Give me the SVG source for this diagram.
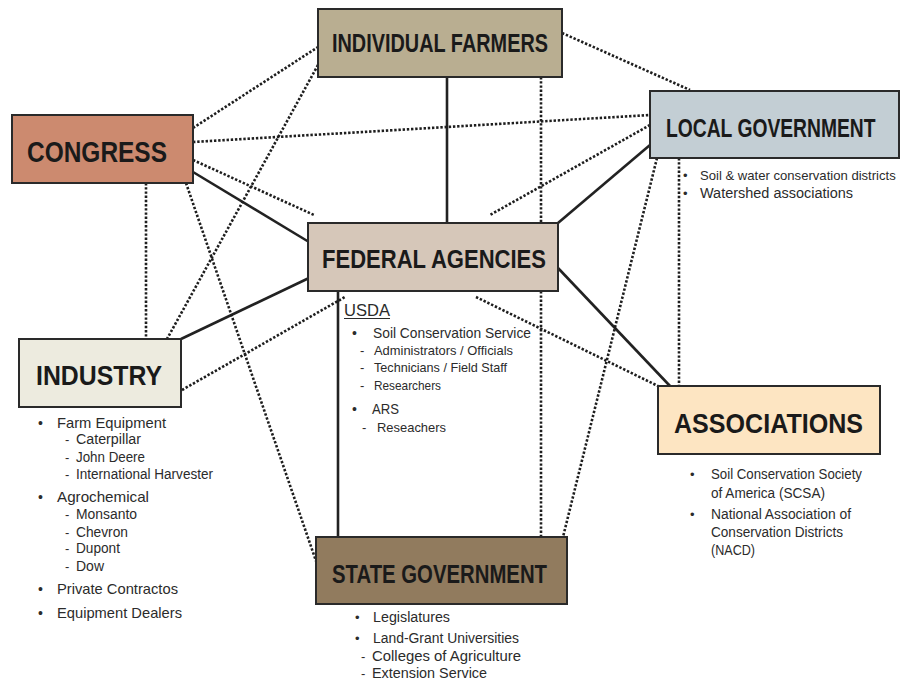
<svg xmlns="http://www.w3.org/2000/svg" width="903" height="686" viewBox="0 0 903 686">
<style>
.box{stroke:#2a2a2a;stroke-width:2}
.title{font-family:"Liberation Sans",Arial,sans-serif;font-weight:bold;fill:#1a1a1a}
.t{font-family:"Liberation Sans",Arial,sans-serif;fill:#2b2b2b}
.solid{stroke:#222;stroke-width:2.6;fill:none}
.dot{stroke:#1e1e1e;stroke-width:2.6;stroke-dasharray:2.4 1.8;fill:none}
</style>
<rect width="903" height="686" fill="#ffffff"/>
<g id="connectors">
  <line class="solid" x1="447" y1="77" x2="447" y2="223"/>
  <line class="solid" x1="193" y1="172" x2="309" y2="242"/>
  <line class="solid" x1="650" y1="145" x2="558" y2="223"/>
  <line class="solid" x1="309" y1="278" x2="181" y2="339"/>
  <line class="solid" x1="558" y1="268" x2="670" y2="386"/>
  <line class="solid" x1="338" y1="291" x2="338" y2="537"/>
  <line class="dot" x1="193" y1="128" x2="318" y2="47"/>
  <line class="dot" x1="193" y1="142" x2="650" y2="115"/>
  <line class="dot" x1="193" y1="160" x2="314" y2="215"/>
  <line class="dot" x1="318" y1="65" x2="167" y2="339"/>
  <line class="dot" x1="146" y1="183" x2="146" y2="339"/>
  <line class="dot" x1="186" y1="183" x2="316" y2="561"/>
  <line class="dot" x1="182" y1="390" x2="345" y2="297"/>
  <line class="dot" x1="562" y1="33" x2="690" y2="90"/>
  <line class="dot" x1="650" y1="125" x2="490" y2="215"/>
  <line class="dot" x1="541" y1="77" x2="541" y2="537"/>
  <line class="dot" x1="657" y1="158" x2="563" y2="537"/>
  <line class="dot" x1="679" y1="158" x2="679" y2="386"/>
  <line class="dot" x1="476" y1="297" x2="658" y2="386"/>
</g>
<g id="individual-farmers">
  <rect class="box" x="318" y="9" width="244" height="68" fill="#b9ae91"/>
  <text class="title" x="332" y="52" font-size="25" textLength="216" lengthAdjust="spacingAndGlyphs">INDIVIDUAL FARMERS</text>
</g>
<g id="congress">
  <rect class="box" x="12" y="115" width="181" height="68" fill="#cc8a6f"/>
  <text class="title" x="27" y="162" font-size="29" textLength="140" lengthAdjust="spacingAndGlyphs">CONGRESS</text>
</g>
<g id="local-government">
  <rect class="box" x="650" y="91" width="249" height="67" fill="#c3ced4"/>
  <text class="title" transform="translate(666 137) scale(0.742 1)" x="0" y="0" font-size="26">LOCAL GOVERNMENT</text>
  <text class="t" x="683" y="180" font-size="13">•</text>
  <text class="t" x="700" y="180" font-size="13.1">Soil &amp; water conservation districts</text>
  <text class="t" x="683" y="198" font-size="13">•</text>
  <text class="t" x="700" y="198" font-size="14" textLength="153" lengthAdjust="spacingAndGlyphs">Watershed associations</text>
</g>
<g id="federal-agencies">
  <rect class="box" x="308" y="223" width="250" height="68" fill="#d6c7b9"/>
  <text class="title" x="322" y="268" font-size="26" textLength="224" lengthAdjust="spacingAndGlyphs">FEDERAL AGENCIES</text>
  <text class="t" x="344" y="316" font-size="17" textLength="46" lengthAdjust="spacingAndGlyphs">USDA</text>
  <line x1="344" y1="318.5" x2="390" y2="318.5" stroke="#2b2b2b" stroke-width="1"/>
  <text class="t" x="352" y="338" font-size="14">•</text>
  <text class="t" x="373" y="338" font-size="15" textLength="158" lengthAdjust="spacingAndGlyphs">Soil Conservation Service</text>
  <text class="t" x="360" y="355" font-size="13">-</text>
  <text class="t" x="374" y="355" font-size="13" textLength="139" lengthAdjust="spacingAndGlyphs">Administrators / Officials</text>
  <text class="t" x="360" y="372" font-size="13">-</text>
  <text class="t" x="374" y="372" font-size="13" textLength="133" lengthAdjust="spacingAndGlyphs">Technicians / Field Staff</text>
  <text class="t" x="360" y="390" font-size="13">-</text>
  <text class="t" x="374" y="390" font-size="13" textLength="67" lengthAdjust="spacingAndGlyphs">Researchers</text>
  <text class="t" x="352" y="414" font-size="14">•</text>
  <text class="t" x="372" y="414" font-size="15" textLength="27" lengthAdjust="spacingAndGlyphs">ARS</text>
  <text class="t" x="362" y="432" font-size="13">-</text>
  <text class="t" x="377" y="432" font-size="13" textLength="69" lengthAdjust="spacingAndGlyphs">Reseachers</text>
</g>
<g id="industry">
  <rect class="box" x="19" y="339" width="162" height="68" fill="#edebdf"/>
  <text class="title" x="36" y="385" font-size="28" textLength="126" lengthAdjust="spacingAndGlyphs">INDUSTRY</text>
  <text class="t" x="38" y="428" font-size="14">•</text>
  <text class="t" x="57" y="428" font-size="15" textLength="109" lengthAdjust="spacingAndGlyphs">Farm Equipment</text>
  <text class="t" x="65" y="444" font-size="13">-</text>
  <text class="t" x="76" y="444" font-size="14" textLength="65" lengthAdjust="spacingAndGlyphs">Caterpillar</text>
  <text class="t" x="65" y="462" font-size="13">-</text>
  <text class="t" x="76" y="462" font-size="14" textLength="69" lengthAdjust="spacingAndGlyphs">John Deere</text>
  <text class="t" x="65" y="479" font-size="13">-</text>
  <text class="t" x="76" y="479" font-size="14" textLength="137" lengthAdjust="spacingAndGlyphs">International Harvester</text>
  <text class="t" x="38" y="502" font-size="14">•</text>
  <text class="t" x="57" y="502" font-size="15" textLength="92" lengthAdjust="spacingAndGlyphs">Agrochemical</text>
  <text class="t" x="65" y="519" font-size="13">-</text>
  <text class="t" x="76" y="519" font-size="14" textLength="61" lengthAdjust="spacingAndGlyphs">Monsanto</text>
  <text class="t" x="65" y="537" font-size="13">-</text>
  <text class="t" x="76" y="537" font-size="14" textLength="52" lengthAdjust="spacingAndGlyphs">Chevron</text>
  <text class="t" x="65" y="553" font-size="13">-</text>
  <text class="t" x="76" y="553" font-size="14" textLength="44" lengthAdjust="spacingAndGlyphs">Dupont</text>
  <text class="t" x="65" y="571" font-size="13">-</text>
  <text class="t" x="76" y="571" font-size="14" textLength="28" lengthAdjust="spacingAndGlyphs">Dow</text>
  <text class="t" x="38" y="594" font-size="14">•</text>
  <text class="t" x="57" y="594" font-size="15" textLength="121" lengthAdjust="spacingAndGlyphs">Private Contractos</text>
  <text class="t" x="38" y="618" font-size="14">•</text>
  <text class="t" x="57" y="618" font-size="15" textLength="125" lengthAdjust="spacingAndGlyphs">Equipment Dealers</text>
</g>
<g id="associations">
  <rect class="box" x="658" y="386" width="222" height="68" fill="#fde5c2"/>
  <text class="title" x="674" y="433" font-size="28" textLength="189" lengthAdjust="spacingAndGlyphs">ASSOCIATIONS</text>
  <text class="t" x="690" y="479" font-size="13">•</text>
  <text class="t" x="711" y="479" font-size="14" textLength="151" lengthAdjust="spacingAndGlyphs">Soil Conservation Society</text>
  <text class="t" x="711" y="498" font-size="14" textLength="114" lengthAdjust="spacingAndGlyphs">of America (SCSA)</text>
  <text class="t" x="690" y="519" font-size="13">•</text>
  <text class="t" x="711" y="519" font-size="14" textLength="140" lengthAdjust="spacingAndGlyphs">National Association of</text>
  <text class="t" x="711" y="537" font-size="14" textLength="132" lengthAdjust="spacingAndGlyphs">Conservation Districts</text>
  <text class="t" x="711" y="555" font-size="14" textLength="44" lengthAdjust="spacingAndGlyphs">(NACD)</text>
</g>
<g id="state-government">
  <rect class="box" x="316" y="537" width="251" height="67" fill="#917b5e"/>
  <text class="title" x="332" y="583" font-size="26" textLength="215" lengthAdjust="spacingAndGlyphs">STATE GOVERNMENT</text>
  <text class="t" x="355" y="622" font-size="13">•</text>
  <text class="t" x="373" y="622" font-size="14" textLength="77" lengthAdjust="spacingAndGlyphs">Legislatures</text>
  <text class="t" x="355" y="643" font-size="13">•</text>
  <text class="t" x="373" y="643" font-size="14" textLength="146" lengthAdjust="spacingAndGlyphs">Land-Grant Universities</text>
  <text class="t" x="361" y="661" font-size="13">-</text>
  <text class="t" x="372" y="661" font-size="14" textLength="149" lengthAdjust="spacingAndGlyphs">Colleges of Agriculture</text>
  <text class="t" x="361" y="678" font-size="13">-</text>
  <text class="t" x="372" y="678" font-size="14" textLength="115" lengthAdjust="spacingAndGlyphs">Extension Service</text>
</g>
</svg>
